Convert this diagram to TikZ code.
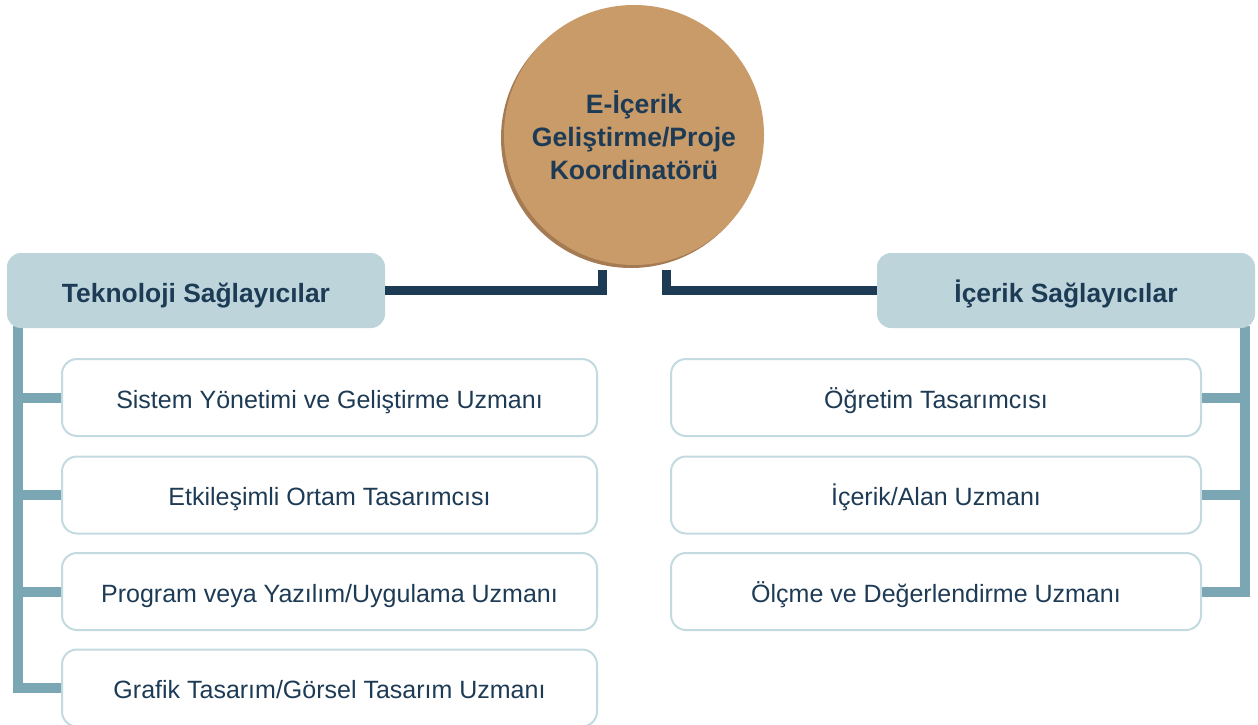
\documentclass[tikz,border=0pt]{standalone}
\usepackage{fontspec}
\setmainfont{Liberation Sans}
\usetikzlibrary{calc}
\definecolor{navy}{HTML}{1E3B56}
\definecolor{coordfill}{HTML}{C99B69}
\definecolor{coordshadow}{HTML}{A47B52}
\definecolor{hdrfill}{HTML}{BDD4DB}
\definecolor{treecol}{HTML}{7BA7B5}
\definecolor{boxline}{HTML}{C3DAE1}
\tikzset{
  hdr/.style={fill=hdrfill, rounded corners=14, minimum width=378, minimum height=75, inner sep=0, text height=23, text depth=0, text=navy, font=\fontsize{26.4}{31}\selectfont\bfseries},
  rolebox/.style={draw=boxline, line width=2, fill=white, rounded corners=15, minimum height=77, inner sep=0, text height=21, text depth=0, text=navy, font=\fontsize{25}{29}\selectfont},
  navyline/.style={draw=navy, line width=9},
  treeline/.style={draw=treecol, line width=10},
}
\begin{document}
\begin{tikzpicture}[x=1pt,y=-1pt]
\useasboundingbox (0,0) rectangle (1258,725);
% coordinator circle
\fill[coordshadow] (631,138) circle (130);
\node[circle, fill=coordfill, minimum size=260, inner sep=0, text=navy, align=center, font=\fontsize{26.6}{33}\selectfont\bfseries] (coord) at (634,135) {E-İçerik\\Geliştirme/Proje\\Koordinatörü};
% coordinates for tree trunks
\coordinate (ltop) at (18,326);
\coordinate (rtop) at (1245,326);
% role boxes
\node[rolebox, minimum width=535] (l1) at (329.5,397.5) {Sistem Yönetimi ve Geliştirme Uzmanı};
\node[rolebox, minimum width=535] (l2) at (329.5,495) {Etkileşimli Ortam Tasarımcısı};
\node[rolebox, minimum width=535] (l3) at (329.5,591.5) {Program veya Yazılım/Uygulama Uzmanı};
\node[rolebox, minimum width=535] (l4) at (329.5,688) {Grafik Tasarım/Görsel Tasarım Uzmanı};
\node[rolebox, minimum width=530] (r1) at (936,397.5) {Öğretim Tasarımcısı};
\node[rolebox, minimum width=530] (r2) at (936,495) {İçerik/Alan Uzmanı};
\node[rolebox, minimum width=530] (r3) at (936,591.5) {Ölçme ve Değerlendirme Uzmanı};
% trees
\draw[treeline] (ltop) |- (l4.west);
\draw[treeline] (ltop |- l1.west) -- (l1.west);
\draw[treeline] (ltop |- l2.west) -- (l2.west);
\draw[treeline] (ltop |- l3.west) -- (l3.west);
\draw[treeline] (rtop) |- (r3.east);
\draw[treeline] (rtop |- r1.east) -- (r1.east);
\draw[treeline] (rtop |- r2.east) -- (r2.east);
% headers
\node[hdr] (lhdr) at (196,290.5) {Teknoloji Sağlayıcılar};
\node[hdr] (rhdr) at (1066,290.5) {İçerik Sağlayıcılar};
% navy connectors
\draw[navyline] (lhdr.east) -| ($(coord.south)+(-32,5)$);
\draw[navyline] (rhdr.west) -| ($(coord.south)+(32,5)$);
\end{tikzpicture}
\end{document}
